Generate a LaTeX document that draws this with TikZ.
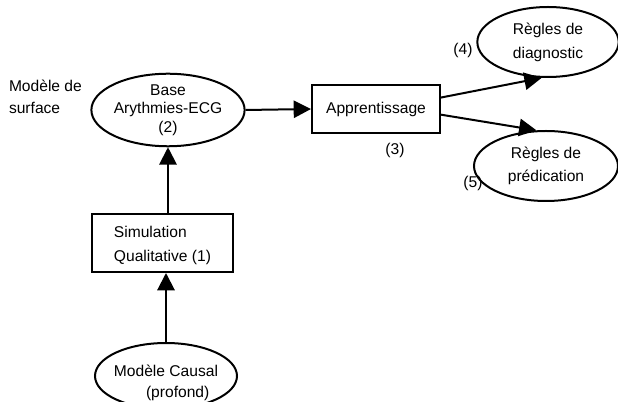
\documentclass[tikz,border=0pt]{standalone}
\usepackage{fontspec}
\setmainfont{Liberation Sans}
\usetikzlibrary{shapes.geometric}
\usetikzlibrary{arrows.meta}
\tikzset{>={Triangle[length=13pt,width=13pt]}}
\tikzset{
  oval/.style={ellipse,draw,inner sep=0pt,align=center},
  boite/.style={rectangle,draw,inner sep=0pt},
  txt/.style={inner sep=0pt,font=\fontsize{11.7}{16.5}\selectfont}
}

\begin{document}
\begin{tikzpicture}[x=0.75pt,y=-0.75pt,line width=1.5pt,every node/.style={font=\fontsize{11.7}{18}\selectfont}]
  \useasboundingbox (0,0) rectangle (618,402);

  % Modele de surface
  \node[txt,align=left,anchor=west] (surf) at (8,97) {Modèle de\\surface};

  % Base
  \node[oval,minimum width=107pt,minimum height=42pt,font=\fontsize{11.7}{14}\selectfont] (base) at (168,110) {Base\\Arythmies-ECG\\(2)};

  % Apprentissage
  \node[boite,minimum width=96pt,minimum height=36pt] (appr) at (376,109) {Apprentissage};
  \node[txt] (n3) at (395,150) {(3)};

  % Regles
  \node[oval,minimum width=106pt,minimum height=52.5pt] (diag) at (548,42) {Règles de\\diagnostic};
  \node[txt] (n4) at (463,50) {(4)};
  \node[oval,minimum width=108pt,minimum height=52.5pt,font=\fontsize{11.7}{17}\selectfont] (pred) at (546,166) {Règles de\\prédication};
  \node[txt] (n5) at (473,183) {(5)};

  % Simulation
  \node[boite,minimum width=106pt,minimum height=43.5pt] (sim) at (162.5,243) {};
  \node[txt,align=left,font=\fontsize{11.7}{18}\selectfont] (simtxt) at ([yshift=-2pt]sim.center) {Simulation\\Qualitative (1)};

  % Modele causal
  \node[oval,minimum width=106.5pt,minimum height=49.5pt] (causal) at (166,376) {};
  \node[txt,align=center,font=\fontsize{11.7}{16}\selectfont] (causaltxt) at ([yshift=-5pt]causal.center) {Modèle Causal\\\hspace*{1.5em}(profond)};

  \draw[->] (base.east) -- (appr.west);
  \draw[->] (appr.10) -- (diag.-100);
  \draw[->] (appr.-5) -- (pred.105);
  \draw[->] (sim.north -| base.south) -- (base.south);
  \draw[->] (causal.north) -- (sim.south -| causal.north);
\end{tikzpicture}
\end{document}
